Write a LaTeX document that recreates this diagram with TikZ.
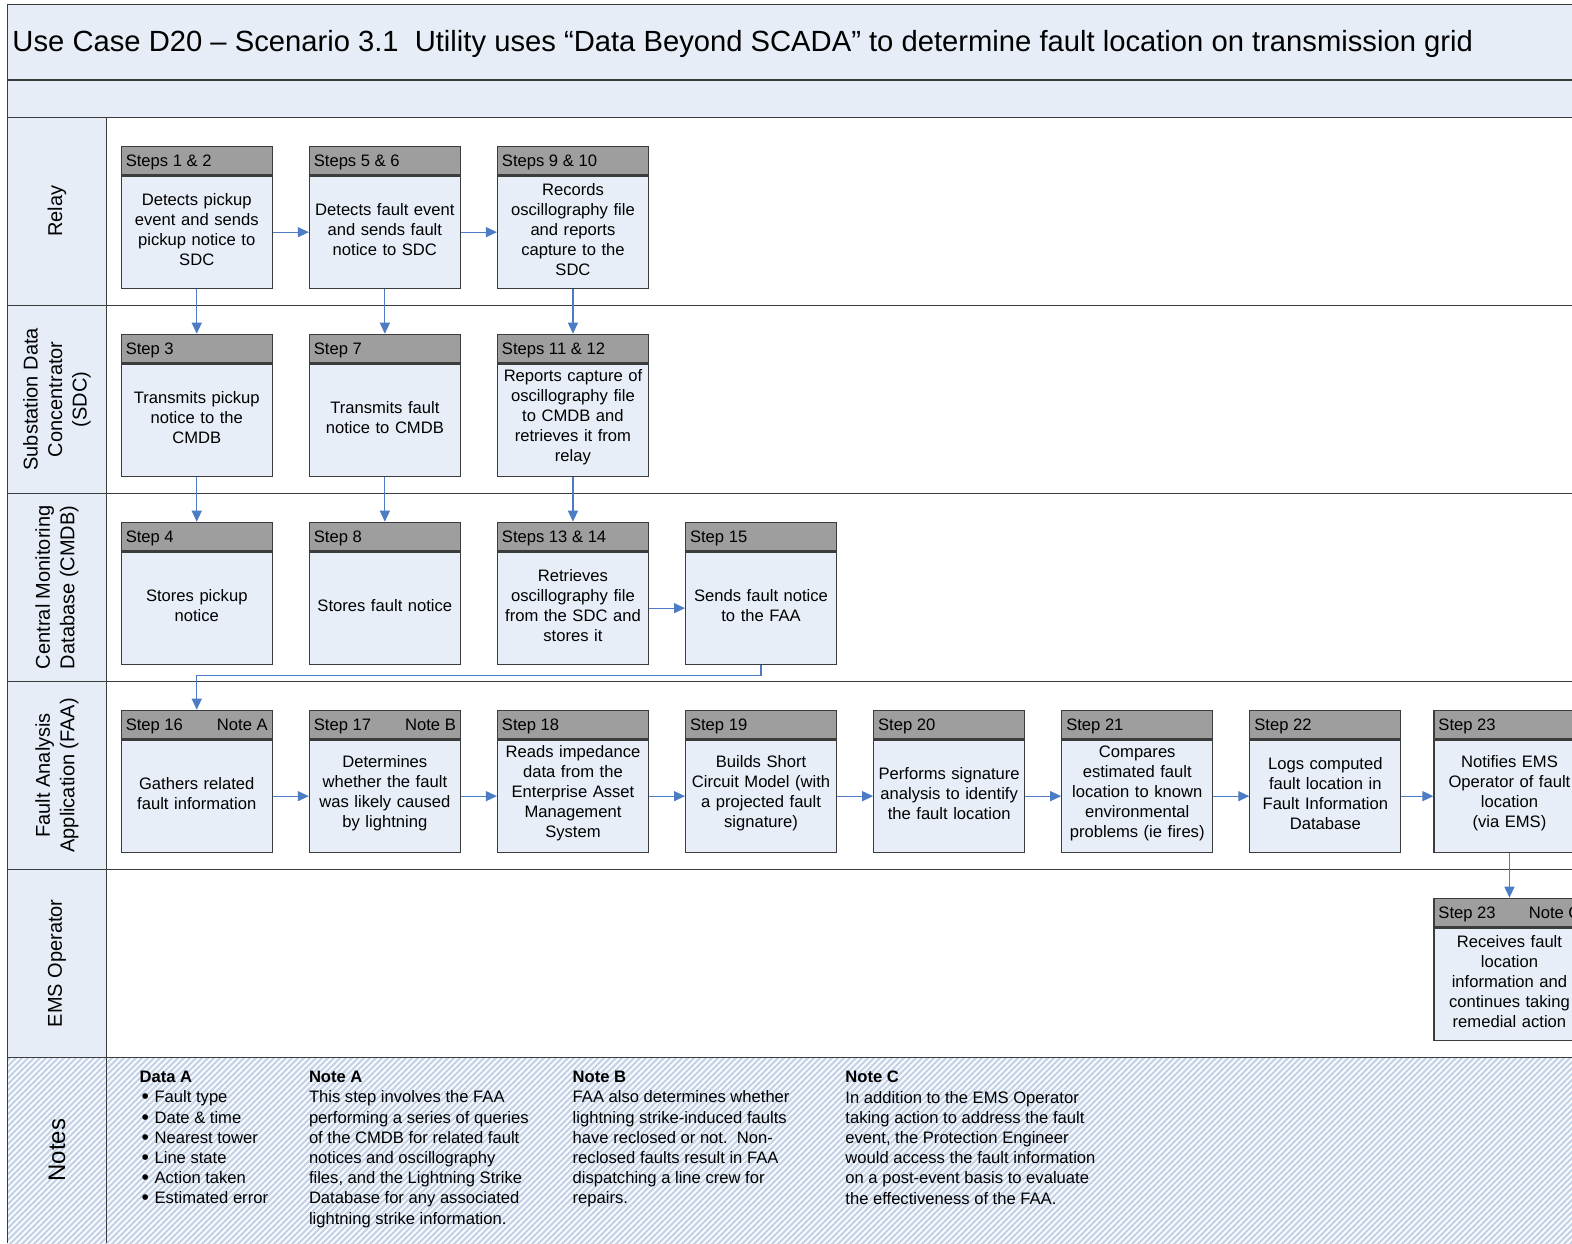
\documentclass[tikz,border=0pt]{standalone}
\usepackage{fontspec}
\setmainfont{Liberation Sans}
\usetikzlibrary{arrows.meta}
\definecolor{linecol}{RGB}{60,60,60}
\definecolor{hdrgray}{RGB}{158,158,158}
\definecolor{bodyblue}{RGB}{232,238,248}
\definecolor{bandblue}{RGB}{230,237,247}
\definecolor{arrowblue}{RGB}{76,124,196}
\definecolor{hatchblue}{RGB}{198,212,234}
\newcommand{\mkstep}[6]{%
  \node[hdr, anchor=north west] (#1h) at ({120.7+188.1*#2-4*(#2==7)},{145.7+188*#3}) {\hbox to 142pt{#4\hfill #5}};
  \node[bdy, anchor=north] (#1) at (#1h.south) {};
  \node[bdytxt] (#1t) at ([yshift=3pt]#1.center) {#6};
}
\newcommand{\mybul}{\hspace*{2pt}\makebox[13pt][l]{\raisebox{-1pt}{\fontsize{21}{20}\selectfont•}}}
\begin{document}
\begin{tikzpicture}[x=1pt,y=-1pt,
  hdr/.style={draw=linecol, line width=1.1pt, fill=hdrgray, minimum width=151, minimum height=28.6, inner sep=0, text height=12, text depth=0, font=\fontsize{16.6}{20}\selectfont},
  bdy/.style={draw=linecol, line width=1.1pt, fill=bodyblue, minimum width=151, minimum height=112.4, inner sep=0},
  bdytxt/.style={text width=150, align=center, inner sep=0, font=\fontsize{16.6}{20}\selectfont},
  arr/.style={draw=arrowblue, line width=1.2pt, -{Triangle[length=11pt,width=10pt]}},
  lanelbl/.style={rotate=90, align=center, font=\fontsize{20}{24.5}\selectfont, inner sep=0},
  notetxt/.style={anchor=north west, align=left, inner sep=0, font=\fontsize{16.6}{20.2}\selectfont},
  lane/.style={draw=linecol, line width=1.5pt},
  hatch/.style={draw=hatchblue, line width=2.4pt}
]
\useasboundingbox (0,0) rectangle (1572,1243);
\clip (0,0) rectangle (1572,1243);
\fill[white] (0,0) rectangle (1572,1243);
% bands
\fill[bandblue] (7.3,4.3) rectangle (1572,117.3);
\fill[bandblue] (7.3,117.3) rectangle (106.7,1057.3);
% notes hatch
\begin{scope}
  \clip (7.3,1057.3) rectangle (1572,1243);
  \fill[white] (7.3,1057.3) rectangle (1572,1243);
  \foreach \i in {0,...,300} {\draw[hatch] ({\i*6-200},1250) -- ++(200,-200);}
\end{scope}
% frame lines
\draw[lane] (1572,4.3) -- (7.3,4.3) -- (7.3,1243);
\draw[lane] (7.3,80) -- (1572,80);
\draw[lane] (7.3,117.3) -- (1572,117.3);
\foreach \k in {1,...,5} {\draw[lane] (7.3,{117.3+188*\k}) -- (1572,{117.3+188*\k});}
\draw[lane] (106.7,117.3) -- (106.7,1243);
% title
\node[anchor=base west, inner sep=0, font=\fontsize{29.2}{35}\selectfont] (title) at (12.3,51) {Use Case D20 – Scenario 3.1\hspace{0.55em}Utility uses “Data Beyond SCADA” to determine fault location on transmission grid};
% lane labels
\node[lanelbl] (lrelay) at (57,211.3) {Relay};
\node[lanelbl] (lsdc) at (57,399.3) {Substation Data\\Concentrator\\(SDC)};
\node[lanelbl] (lcmdb) at (57,587.3) {Central Monitoring\\Database (CMDB)};
\node[lanelbl] (lfaa) at (57,775.3) {Fault Analysis\\Application (FAA)};
\node[lanelbl] (lems) at (57,963.3) {EMS Operator};
\node[lanelbl, font=\fontsize{24}{28}\selectfont] (lnotes) at (57,1150) {Notes};
% steps
\mkstep{r1}{0}{0}{Steps 1 \& 2}{}{Detects pickup\\event and sends\\pickup notice to\\SDC}
\mkstep{r2}{1}{0}{Steps 5 \& 6}{}{Detects fault event\\and sends fault\\notice to SDC}
\mkstep{r3}{2}{0}{Steps 9 \& 10}{}{Records\\oscillography file\\and reports\\capture to the\\SDC}
\mkstep{s1}{0}{1}{Step 3}{}{Transmits pickup\\notice to the\\CMDB}
\mkstep{s2}{1}{1}{Step 7}{}{Transmits fault\\notice to CMDB}
\mkstep{s3}{2}{1}{Steps 11 \& 12}{}{Reports capture of\\oscillography file\\to CMDB and\\retrieves it from\\relay}
\mkstep{c1}{0}{2}{Step 4}{}{Stores pickup\\notice}
\mkstep{c2}{1}{2}{Step 8}{}{Stores fault notice}
\mkstep{c3}{2}{2}{Steps 13 \& 14}{}{Retrieves\\oscillography file\\from the SDC and\\stores it}
\mkstep{c4}{3}{2}{Step 15}{}{Sends fault notice\\to the FAA}
\mkstep{f1}{0}{3}{Step 16}{Note A}{Gathers related\\fault information}
\mkstep{f2}{1}{3}{Step 17}{Note B}{Determines\\whether the fault\\was likely caused\\by lightning}
\mkstep{f3}{2}{3}{Step 18}{}{Reads impedance\\data from the\\Enterprise Asset\\Management\\System}
\mkstep{f4}{3}{3}{Step 19}{}{Builds Short\\Circuit Model (with\\a projected fault\\signature)}
\mkstep{f5}{4}{3}{Step 20}{}{Performs signature\\analysis to identify\\the fault location}
\mkstep{f6}{5}{3}{Step 21}{}{Compares\\estimated fault\\location to known\\environmental\\problems (ie fires)}
\mkstep{f7}{6}{3}{Step 22}{}{Logs computed\\fault location in\\Fault Information\\Database}
\mkstep{f8}{7}{3}{Step 23}{}{Notifies EMS\\Operator of fault\\location\\(via EMS)}
\mkstep{e8}{7}{4}{Step 23}{Note C}{Receives fault\\location\\information and\\continues taking\\remedial action}
% arrows
\draw[arr] (r1.east) -- (r2.west);
\draw[arr] (r2.east) -- (r3.west);
\draw[arr] (r1.south) -- (s1h.north);
\draw[arr] (r2.south) -- (s2h.north);
\draw[arr] (r3.south) -- (s3h.north);
\draw[arr] (s1.south) -- (c1h.north);
\draw[arr] (s2.south) -- (c2h.north);
\draw[arr] (s3.south) -- (c3h.north);
\draw[arr] (c3.east) -- (c4.west);
\draw[arr] (c4.south) -- ++(0,10.5) -| (f1h.north);
\draw[arr] (f1.east) -- (f2.west);
\draw[arr] (f2.east) -- (f3.west);
\draw[arr] (f3.east) -- (f4.west);
\draw[arr] (f4.east) -- (f5.west);
\draw[arr] (f5.east) -- (f6.west);
\draw[arr] (f6.east) -- (f7.west);
\draw[arr] (f7.east) -- (f8.west);
\draw[arr] (f8.south) -- (e8h.north);
% notes
\node[notetxt] (dataA) at (139.4,1071) {\textbf{Data A}\\\mybul Fault type\\\mybul Date \& time\\\mybul Nearest tower\\\mybul Line state\\\mybul Action taken\\\mybul Estimated error};
\node[notetxt] (noteA) at (308.8,1071) {\textbf{Note A}\\This step involves the FAA\\performing a series of queries\\of the CMDB for related fault\\notices and oscillography\\files, and the Lightning Strike\\Database for any associated\\lightning strike information.};
\node[notetxt] (noteB) at (572.5,1071) {\textbf{Note B}\\FAA also determines whether\\lightning strike-induced faults\\have reclosed or not.\hspace{0.55em}Non-\\reclosed faults result in FAA\\dispatching a line crew for\\repairs.};
\node[notetxt] (noteC) at (845.2,1071) {\textbf{Note C}\\In addition to the EMS Operator\\taking action to address the fault\\event, the Protection Engineer\\would access the fault information\\on a post-event basis to evaluate\\the effectiveness of the FAA.};
\end{tikzpicture}
\end{document}
